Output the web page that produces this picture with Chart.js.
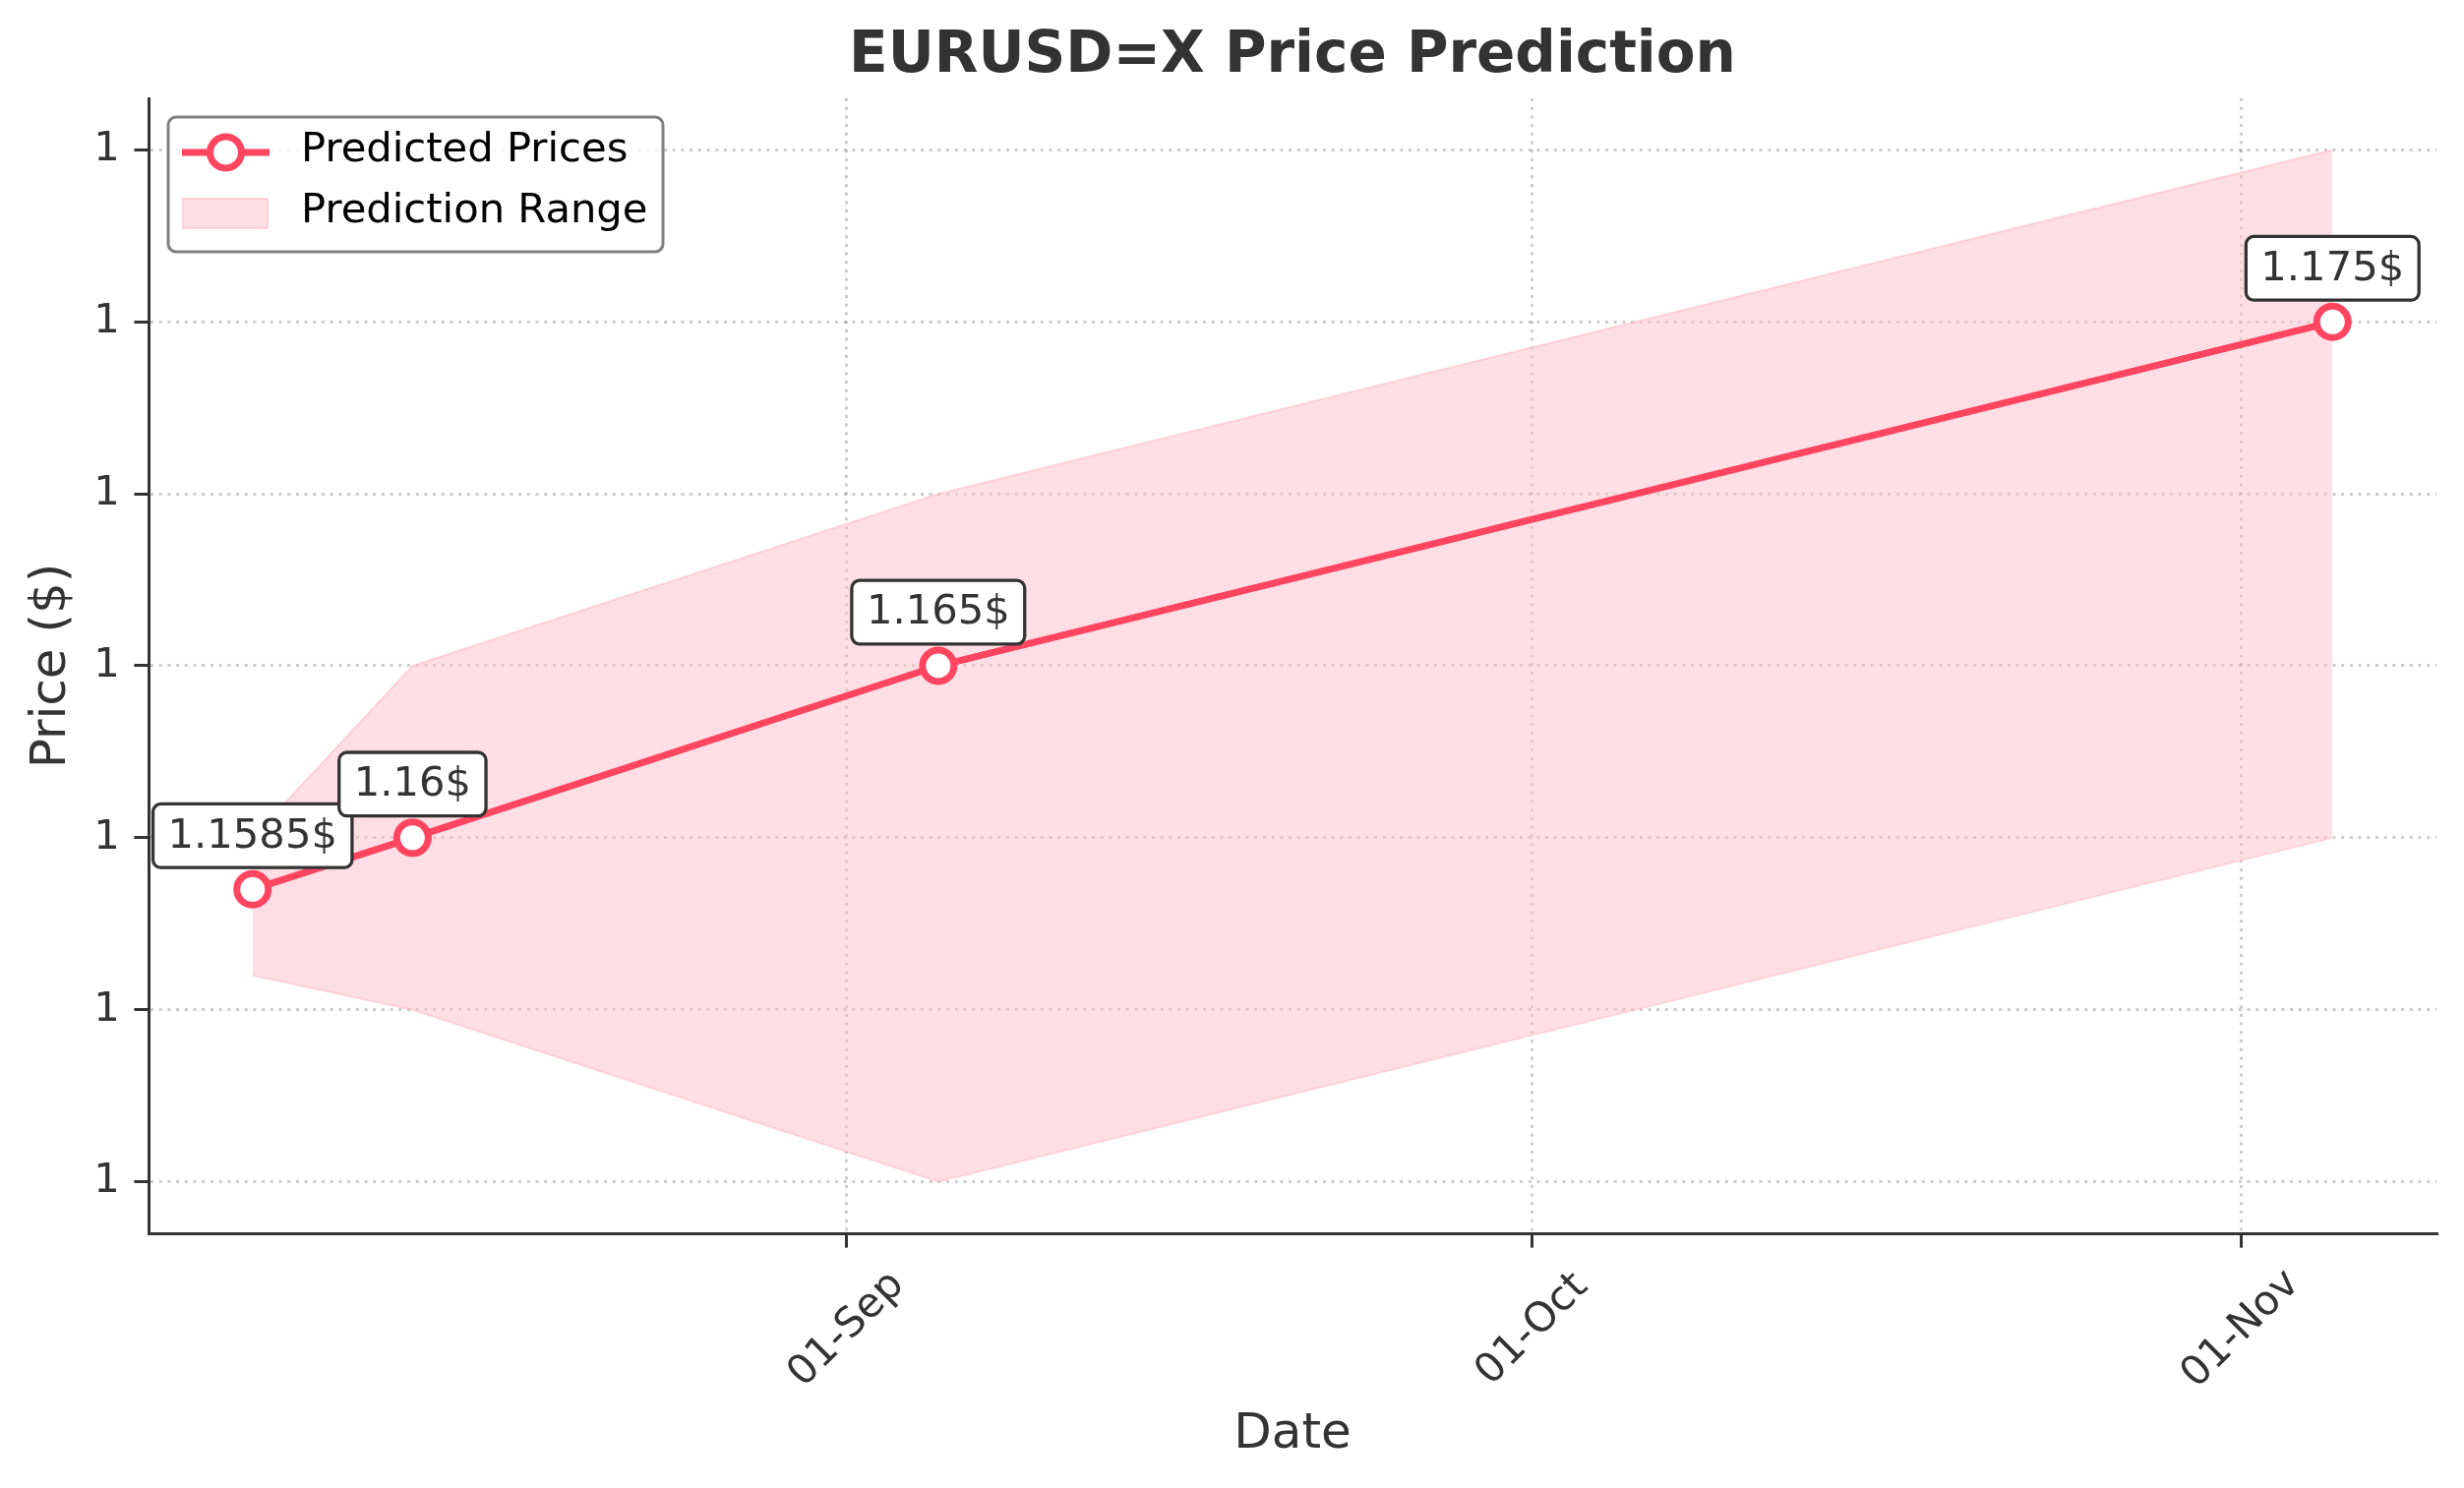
<!DOCTYPE html>
<html lang="en">
<head>
    <meta charset="UTF-8">
    <title>EURUSD=X Price Prediction</title>
    <script src="https://cdn.jsdelivr.net/npm/chart.js"></script>
    <style>
        html, body {
            margin: 0;
            padding: 0;
            background: #ffffff;
            overflow: hidden;
        }
        #wrap {
            width: 2505px;
            height: 1513px;
            position: relative;
        }
    </style>
</head>
<body>
    <div id="wrap"><canvas id="grafico"></canvas></div>

    <script>
        // Datos
        const fechas = ['2025-08-06', '2025-08-13', '2025-09-05', '2025-11-05'];
        const precioPredicho = [1.1585, 1.16, 1.165, 1.175];
        const rangoMin = [1.156, 1.155, 1.15, 1.16];
        const rangoMax = [1.16, 1.165, 1.17, 1.18];
        const etiquetasPrecio = ['1.1585$', '1.16$', '1.165$', '1.175$'];
        const fechasTicksX = ['2025-09-01', '2025-10-01', '2025-11-01'];
        const etiquetasTicksX = ['01-Sep', '01-Oct', '01-Nov'];
        const valoresTicksY = [1.15, 1.155, 1.16, 1.165, 1.17, 1.175, 1.18];

        const ROJO = '#ff4560';
        const ROSA_RELLENO = 'rgba(255, 192, 203, 0.5)';
        const ROSA_BORDE = 'rgba(255, 170, 185, 0.45)';
        const GRID = 'rgba(0, 0, 0, 0.2)';
        const FUENTE = 'DejaVu Sans';

        // dias desde epoch (UTC)
        function dia(s) {
            return Date.parse(s + 'T00:00:00Z') / 86400000;
        }

        const xs = fechas.map(dia);
        const spanX = xs[xs.length - 1] - xs[0];
        const minY = Math.min(...rangoMin), maxY = Math.max(...rangoMax);
        const spanY = maxY - minY;

        const puntos = arr => arr.map((v, i) => ({ x: xs[i], y: v }));

        // Plugin: etiquetas de fecha rotadas, anotaciones y leyenda
        const extras = {
            id: 'extras',
            afterDatasetsDraw(chart) {
                const ctx = chart.ctx;
                const sx = chart.scales.x, sy = chart.scales.y;

                // anotaciones con caja redondeada
                ctx.save();
                ctx.font = '41.7px "' + FUENTE + '"';
                for (let i = 0; i < precioPredicho.length; i++) {
                    const px = sx.getPixelForValue(xs[i]);
                    const py = sy.getPixelForValue(precioPredicho[i]);
                    const cy = py - 54.5;
                    const tw = ctx.measureText(etiquetasPrecio[i]).width;
                    const w = tw + 30, h = 64.7;
                    ctx.beginPath();
                    ctx.roundRect(px - w / 2, cy - h / 2, w, h, 8);
                    ctx.fillStyle = '#ffffff';
                    ctx.fill();
                    ctx.lineWidth = 3.3;
                    ctx.strokeStyle = '#333333';
                    ctx.stroke();
                    ctx.fillStyle = '#333333';
                    ctx.textAlign = 'center';
                    ctx.textBaseline = 'middle';
                    ctx.fillText(etiquetasPrecio[i], px, cy + 1);
                }
                ctx.restore();
            },
            afterDraw(chart) {
                const ctx = chart.ctx;
                const sx = chart.scales.x;
                const area = chart.chartArea;

                // etiquetas del eje X (rotadas 45 grados, centradas en el tick)
                ctx.save();
                ctx.font = '41.7px "' + FUENTE + '"';
                ctx.fillStyle = '#333333';
                ctx.textAlign = 'center';
                ctx.textBaseline = 'middle';
                fechasTicksX.forEach((f, i) => {
                    const x = sx.getPixelForValue(dia(f));
                    ctx.save();
                    ctx.translate(x, area.bottom + 98);
                    ctx.rotate(-Math.PI / 4);
                    ctx.fillText(etiquetasTicksX[i], 0, 0);
                    ctx.restore();
                });
                ctx.restore();

                // leyenda
                const lx = area.left + 20, ly = area.top + 19;
                ctx.save();
                ctx.beginPath();
                ctx.roundRect(lx, ly, 503, 137, 8);
                ctx.fillStyle = 'rgba(255,255,255,0.8)';
                ctx.fill();
                ctx.lineWidth = 3;
                ctx.strokeStyle = '#808080';
                ctx.stroke();

                const y1 = ly + 36, y2 = ly + 98;
                ctx.beginPath();
                ctx.moveTo(lx + 14, y1);
                ctx.lineTo(lx + 103, y1);
                ctx.lineWidth = 7;
                ctx.strokeStyle = ROJO;
                ctx.stroke();
                ctx.beginPath();
                ctx.arc(lx + 58.5, y1, 16, 0, Math.PI * 2);
                ctx.fillStyle = '#ffffff';
                ctx.fill();
                ctx.stroke();

                ctx.fillStyle = ROSA_RELLENO;
                ctx.fillRect(lx + 15, y2 - 15, 86, 30);
                ctx.lineWidth = 2;
                ctx.strokeStyle = ROSA_BORDE;
                ctx.strokeRect(lx + 15, y2 - 15, 86, 30);

                ctx.font = '41.7px "' + FUENTE + '"';
                ctx.fillStyle = '#000000';
                ctx.textAlign = 'left';
                ctx.textBaseline = 'middle';
                ctx.fillText('Predicted Prices', lx + 135, y1 - 2);
                ctx.fillText('Prediction Range', lx + 135, y2 - 2);
                ctx.restore();
            }
        };

        Chart.defaults.font.family = FUENTE;
        Chart.defaults.color = '#333333';

        const ejeComun = {
            grid: {
                color: GRID,
                lineWidth: 3,
                drawTicks: true,
                tickLength: 14.6,
                tickColor: '#333333',
                tickWidth: 3
            },
            border: {
                display: true,
                color: '#333333',
                width: 3,
                dash: [3, 5.7]
            }
        };

        new Chart(document.getElementById('grafico'), {
            type: 'line',
            data: {
                datasets: [
                    {
                        label: 'Lower',
                        data: puntos(rangoMin),
                        borderColor: ROSA_BORDE,
                        borderWidth: 2,
                        pointRadius: 0,
                        fill: false,
                        tension: 0,
                        order: 3
                    },
                    {
                        label: 'Prediction Range',
                        data: puntos(rangoMax),
                        borderColor: ROSA_BORDE,
                        backgroundColor: ROSA_RELLENO,
                        borderWidth: 2,
                        pointRadius: 0,
                        fill: '-1',
                        tension: 0,
                        order: 2
                    },
                    {
                        label: 'Predicted Prices',
                        data: puntos(precioPredicho),
                        borderColor: ROJO,
                        borderWidth: 7,
                        pointRadius: 16,
                        pointBorderWidth: 7,
                        pointBackgroundColor: '#ffffff',
                        pointBorderColor: ROJO,
                        fill: false,
                        tension: 0,
                        order: 1
                    }
                ]
            },
            options: {
                responsive: true,
                maintainAspectRatio: false,
                devicePixelRatio: 1,
                animation: false,
                layout: { padding: { left: 0, right: 28, top: 0, bottom: 0 } },
                plugins: {
                    legend: { display: false },
                    tooltip: { enabled: false },
                    title: {
                        display: true,
                        text: 'EURUSD=X Price Prediction',
                        fullSize: false,
                        color: '#333333',
                        font: { size: 58, weight: 'bold', family: FUENTE },
                        padding: { top: 23, bottom: 7.4 }
                    }
                },
                scales: {
                    x: {
                        type: 'linear',
                        min: xs[0] - 0.05 * spanX,
                        max: xs[xs.length - 1] + 0.05 * spanX,
                        afterBuildTicks: s => { s.ticks = fechasTicksX.map(f => ({ value: dia(f) })); },
                        afterFit: s => { s.height = 259; },
                        ticks: { display: false },
                        grid: ejeComun.grid,
                        border: ejeComun.border,
                        title: {
                            display: true,
                            text: 'Date',
                            color: '#333333',
                            font: { size: 50, family: FUENTE },
                            padding: { top: 0, bottom: 24 }
                        }
                    },
                    y: {
                        type: 'linear',
                        min: minY - 0.05 * spanY,
                        max: maxY + 0.05 * spanY,
                        afterBuildTicks: s => { s.ticks = valoresTicksY.map(v => ({ value: v })); },
                        afterFit: s => { s.width = 151; },
                        ticks: {
                            callback: v => Number(v).toFixed(0),
                            color: '#333333',
                            font: { size: 41.7, family: FUENTE },
                            padding: 14.6
                        },
                        grid: ejeComun.grid,
                        border: ejeComun.border,
                        title: {
                            display: true,
                            text: 'Price ($)',
                            color: '#333333',
                            font: { size: 50, family: FUENTE },
                            padding: { top: 23.5, bottom: 0 }
                        }
                    }
                }
            },
            plugins: [extras]
        });
    </script>
</body>
</html>
